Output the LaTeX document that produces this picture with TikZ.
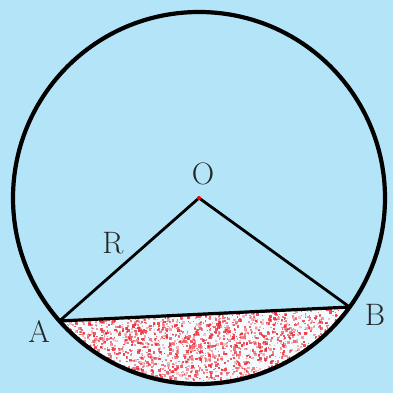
\documentclass[tikz,border=0pt]{standalone}
\usetikzlibrary{calc}
\definecolor{bgblue}{RGB}{180,228,248}
\definecolor{dotred}{RGB}{238,40,50}
\tikzset{
  rim/.style={line width=4.2pt, draw=black},
  radial/.style={line width=2.8pt, draw=black, line cap=round},
  lbl/.style={font=\fontsize{31}{31}\selectfont, text=black!85, inner sep=0pt}
}
\begin{document}
\begin{tikzpicture}[x=1pt,y=1pt]
\fill[bgblue] (0,0) rectangle (393,393);
\useasboundingbox (0,0) rectangle (393,393);
\coordinate (O) at (199,195);
\coordinate (A) at ($(O)+(221.4:186pt)$);
\coordinate (B) at ($(O)+(-35.9:186pt)$);
% segment
\begin{scope}
  \clip (A) -- (B) arc[start angle=-35.9, end angle=-138.6, radius=186pt] -- cycle;
  \fill[white!85!bgblue] (50,0) rectangle (360,100);
  \pgfmathsetseed{7}
  \foreach \i in {1,...,2300} {
    \pgfmathsetmacro\rx{66+rnd*272}
    \pgfmathsetmacro\ry{12+rnd*76}
    \pgfmathsetmacro\sz{1+rnd*2}
    \pgfmathsetmacro\op{0.25+rnd*0.6}
    \fill[dotred, opacity=\op] (\rx,\ry) rectangle ++(\sz,\sz);
  }
\end{scope}
\draw[rim] (O) circle[radius=186pt];
\draw[radial] (A) -- (O) -- (B);
\draw[line width=3.2pt] (A) -- (B);
\fill[red] (O) circle[radius=2pt];
\node[lbl] (lO) at (203,219) {O};
\node[lbl] (lA) at (39,61) {A};
\node[lbl] (lB) at (375,78) {B};
\node[lbl] (lR) at (113,150) {R};
\end{tikzpicture}
\end{document}
